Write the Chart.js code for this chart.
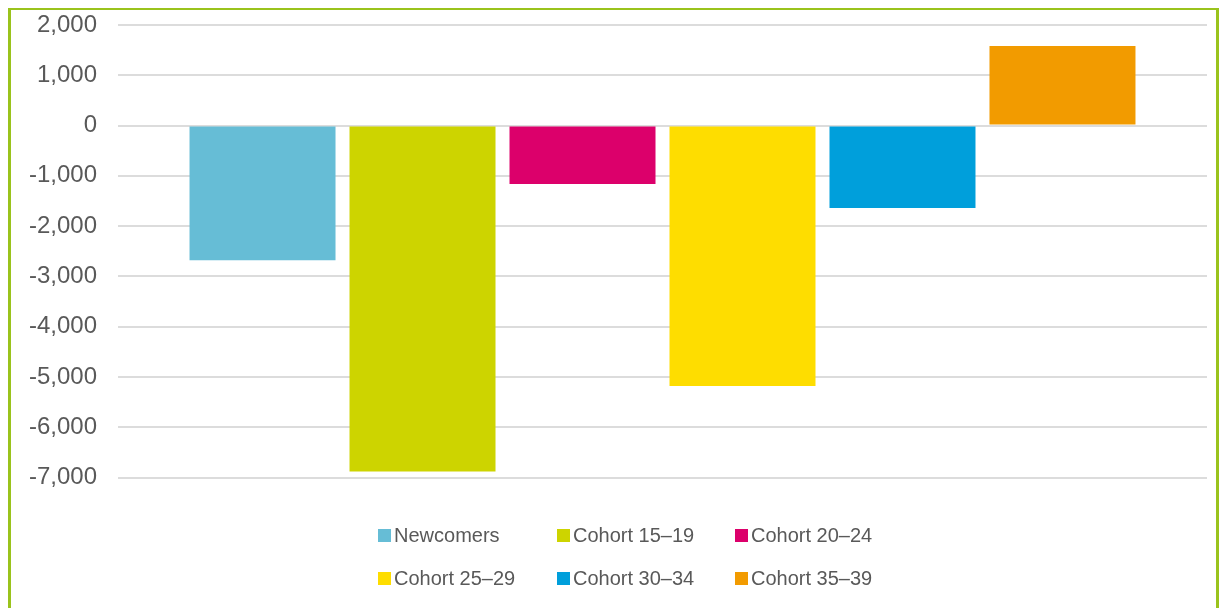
<!DOCTYPE html>
<html>
<head>
<meta charset="utf-8">
<script src="https://cdn.jsdelivr.net/npm/chart.js@4/dist/chart.umd.min.js"></script>
<style>
  html, body { margin: 0; padding: 0; background: #ffffff; overflow: hidden; }
  #wrap { position: relative; width: 1221px; height: 608px; }
  #frame {
    position: absolute; left: 8px; top: 8px; width: 1205px; height: 640px;
    border-style: solid; border-color: #9ac31c;
    border-width: 2px 3px 3px 3px; pointer-events: none;
  }
  canvas { position: absolute; left: 0; top: 0; }
</style>
</head>
<body>
<div id="wrap">
  <canvas id="chart" width="1221" height="608"></canvas>
  <div id="frame"></div>
</div>
<script>
// Net change by group
const categories = [''];
const seriesNames = ['Newcomers', 'Cohort 15–19', 'Cohort 20–24', 'Cohort 25–29', 'Cohort 30–34', 'Cohort 35–39'];
const seriesValues = [-2680, -6880, -1160, -5180, -1640, 1580];
const seriesColors = ['#66bdd6', '#cdd400', '#dc006b', '#fedd00', '#009fdb', '#f29b00'];
const yTickMin = -7000;
const yTickMax = 2000;
const yTickStep = 1000;

const FONT = "'Liberation Sans', Arial, sans-serif";
const TEXT_COLOR = '#595959';

// Legend drawn in a fixed three-column grid under the plot
const gridLegend = {
  id: 'gridLegend',
  afterDraw(chart) {
    const ctx = chart.ctx;
    const colX = [378, 557, 735];
    const rowY = [535.5, 578.5];
    const box = 13;
    ctx.save();
    ctx.font = '20px ' + FONT;
    ctx.textBaseline = 'middle';
    ctx.textAlign = 'left';
    chart.data.datasets.forEach((ds, i) => {
      const x = colX[i % 3];
      const y = rowY[Math.floor(i / 3)];
      ctx.fillStyle = ds.backgroundColor;
      ctx.fillRect(x, y - box / 2, box, box);
      ctx.fillStyle = TEXT_COLOR;
      ctx.fillText(ds.label, x + box + 3, y + 1);
    });
    ctx.restore();
  }
};

new Chart(document.getElementById('chart'), {
  type: 'bar',
  data: {
    labels: categories,
    datasets: seriesNames.map((name, i) => ({
      label: name,
      data: [seriesValues[i]],
      backgroundColor: seriesColors[i],
      borderWidth: 0,
      categoryPercentage: 0.8815,
      barPercentage: 0.9125
    }))
  },
  options: {
    responsive: false,
    animation: false,
    devicePixelRatio: 1,
    layout: { padding: { top: 25, right: 14, bottom: 130.5, left: 0 } },
    plugins: {
      legend: { display: false },
      tooltip: { enabled: false }
    },
    scales: {
      x: { display: false },
      y: {
        min: yTickMin,
        max: yTickMax,
        border: { display: false },
        grid: {
          color: '#dcdcdc',
          lineWidth: 2,
          drawTicks: true,
          tickLength: 21,
          tickColor: 'rgba(0,0,0,0)'
        },
        afterFit(scale) { scale.width = 118; },
        ticks: {
          stepSize: yTickStep,
          padding: 0,
          color: TEXT_COLOR,
          font: { family: FONT, size: 24 },
          callback: v => v.toLocaleString('en-US')
        }
      }
    }
  },
  plugins: [gridLegend]
});
</script>
</body>
</html>
